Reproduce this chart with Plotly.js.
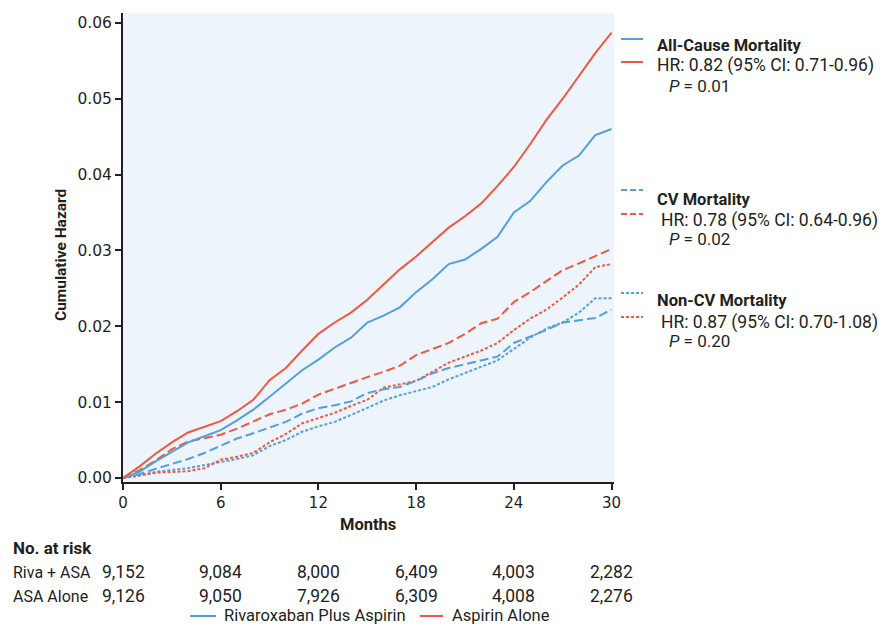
<!DOCTYPE html>
<html>
<head>
<meta charset="utf-8">
<script src="https://cdn.plot.ly/plotly-3.0.1.min.js"></script>
<style>html,body{margin:0;padding:0;background:#fff;}#chart{width:882px;height:626px;}</style>
</head>
<body>
<div id="chart"></div>
<script>
// Months at which curves are read
var months = [0,1,2,3,4,5,6,7,8,9,10,11,12,13,14,15,16,17,18,19,20,21,22,23,24,25,26,27,28,29,30];

// All-cause mortality
var allCauseASA  = [0,0.0015,0.0032,0.0047,0.0060,0.0067,0.0075,0.0088,0.0103,0.0129,0.0145,0.0168,0.0190,0.0205,0.0218,0.0235,0.0255,0.0275,0.0292,0.0311,0.0330,0.0345,0.0362,0.0385,0.0410,0.0440,0.0472,0.0500,0.0530,0.0560,0.0587];
var allCauseRiva = [0,0.0008,0.0022,0.0035,0.0047,0.0055,0.0063,0.0076,0.0090,0.0107,0.0125,0.0142,0.0156,0.0172,0.0185,0.0205,0.0214,0.0225,0.0245,0.0262,0.0282,0.0288,0.0302,0.0318,0.0350,0.0365,0.0390,0.0412,0.0425,0.0452,0.0460];

// CV mortality
var cvASA  = [0,0.0010,0.0023,0.0038,0.0048,0.0053,0.0057,0.0065,0.0074,0.0084,0.0090,0.0098,0.0110,0.0118,0.0125,0.0133,0.0140,0.0148,0.0162,0.0170,0.0178,0.0190,0.0204,0.0210,0.0232,0.0245,0.0259,0.0274,0.0283,0.0292,0.0302];
var cvRiva = [0,0.0005,0.0012,0.0018,0.0025,0.0033,0.0042,0.0052,0.0059,0.0067,0.0074,0.0085,0.0092,0.0096,0.0101,0.0112,0.0117,0.0120,0.0128,0.0138,0.0145,0.0150,0.0155,0.0160,0.0178,0.0186,0.0195,0.0205,0.0208,0.0211,0.0222];

// Non-CV mortality
var nonCvASA  = [0,0.0004,0.0007,0.0008,0.0009,0.0013,0.0024,0.0028,0.0033,0.0047,0.0058,0.0072,0.0079,0.0086,0.0095,0.0103,0.0119,0.0123,0.0128,0.0140,0.0152,0.0160,0.0168,0.0178,0.0195,0.0210,0.0222,0.0238,0.0255,0.0278,0.0282];
var nonCvRiva = [0,0.0003,0.0008,0.0010,0.0013,0.0017,0.0021,0.0025,0.0030,0.0042,0.0050,0.0061,0.0068,0.0074,0.0083,0.0092,0.0102,0.0109,0.0115,0.0120,0.0130,0.0138,0.0146,0.0155,0.0170,0.0185,0.0197,0.0205,0.0218,0.0237,0.0237];

// Number at risk
var riskMonths = [0,6,12,18,24,30];
var riskRiva = ["9,152","9,084","8,000","6,409","4,003","2,282"];
var riskASA  = ["9,126","9,050","7,926","6,309","4,008","2,276"];

var yTicks = [0,0.01,0.02,0.03,0.04,0.05,0.06];
var xTicks = [0,6,12,18,24,30];

var RED = "#F0583F";
var BLUE = "#52A0DA";
var TXT = "#231f20";
var FONT = "Roboto, Arial, sans-serif";
var TICKFONT = "DejaVu Sans, Verdana, sans-serif";
var DASH = "9px,4px";
var DOT = "3px,2px";

function tr(y, color, dash, name) {
  return {x: months, y: y, type: "scatter", mode: "lines", line: {shape: "linear", color: color, width: 2, dash: dash},
          name: name, showlegend: false, hoverinfo: "skip"};
}

var data = [
  tr(nonCvRiva, BLUE, DOT, "Non-CV Riva"),
  tr(nonCvASA, RED, DOT, "Non-CV ASA"),
  tr(cvRiva, BLUE, DASH, "CV Riva"),
  tr(cvASA, RED, DASH, "CV ASA"),
  tr(allCauseRiva, BLUE, "solid", "Rivaroxaban Plus Aspirin"),
  tr(allCauseASA, RED, "solid", "Aspirin Alone")
];

// pixel helpers for paper coords (plot area 123..614 x, 13..482 y)
function px(x){ return (x-123)/491; }
function py(y){ return (482-y)/469; }

var annotations = [];
function ann(text, x, y, size, extra) {
  var a = {text: text, xref: "paper", yref: "paper", x: px(x), y: py(y), xanchor: "left", yanchor: "middle",
           showarrow: false, font: {family: FONT, size: size, color: TXT}};
  if (extra) for (var k in extra) a[k] = extra[k];
  annotations.push(a);
}
ann("<b>All-Cause Mortality</b>", 655, 45, 16.5);
ann("HR: 0.82 (95% CI: 0.71-0.96)", 655, 66, 17.5);
ann("<i>P</i> = 0.01", 667, 86, 17);
ann("<b>CV Mortality</b>", 655, 199, 16.5);
ann("HR: 0.78 (95% CI: 0.64-0.96)", 659, 220, 17.5);
ann("<i>P</i> = 0.02", 667, 239, 17);
ann("<b>Non-CV Mortality</b>", 655, 300, 16.5);
ann("HR: 0.87 (95% CI: 0.70-1.08)", 659, 322, 17.5);
ann("<i>P</i> = 0.20", 667, 341, 17);

// axis titles
ann("<b>Cumulative Hazard</b>", 61, 255, 15.5, {xanchor: "center", textangle: -90});
ann("<b>Months</b>", 368, 524, 16.5, {xanchor: "center"});

ann("<b>No. at risk</b>", 11, 548, 17);
ann("Riva + ASA", 11, 572, 16);
ann("ASA Alone", 11, 596, 16);
for (var i = 0; i < riskMonths.length; i++) {
  annotations.push({text: riskRiva[i], xref: "x", yref: "paper", x: riskMonths[i], y: py(572), xanchor: "center", yanchor: "middle",
    showarrow: false, font: {family: FONT, size: 17.5, color: TXT}});
  annotations.push({text: riskASA[i], xref: "x", yref: "paper", x: riskMonths[i], y: py(596), xanchor: "center", yanchor: "middle",
    showarrow: false, font: {family: FONT, size: 17.5, color: TXT}});
}
// bottom legend texts
ann("Rivaroxaban Plus Aspirin", 222, 615, 16.5);
ann("Aspirin Alone", 450, 615, 16.5);

var shapes = [];
function seg(x0, x1, y, color, dash) {
  shapes.push({type: "line", xref: "paper", yref: "paper", x0: px(x0), x1: px(x1), y0: py(y), y1: py(y),
               line: {color: color, width: 2, dash: dash}});
}
seg(621, 643, 39, BLUE, "solid"); seg(621, 643, 62, RED, "solid");
seg(621, 643, 190, BLUE, "6px,3px"); seg(621, 643, 214, RED, "6px,3px");
seg(621, 643, 293, BLUE, DOT); seg(621, 643, 317, RED, DOT);
seg(190, 216, 616, BLUE, "solid"); seg(420, 443, 616, RED, "solid");

var layout = {
  width: 882, height: 626,
  margin: {l: 123, r: 268, t: 13, b: 144, pad: 0},
  paper_bgcolor: "#ffffff",
  plot_bgcolor: "#EDF4FC",
  font: {family: FONT, size: 15, color: TXT},
  showlegend: false,
  xaxis: {range: [0, 30.15], tickvals: xTicks, ticktext: xTicks.map(String), ticks: "outside", ticklen: 6, tickwidth: 2,
          tickcolor: TXT, showline: true, linecolor: TXT, linewidth: 2, showgrid: false, zeroline: false,
          tickfont: {family: TICKFONT, size: 15, color: TXT}},
  yaxis: {range: [-0.00053, 0.0613], tickvals: yTicks, ticktext: yTicks.map(function(v){return v.toFixed(2);}),
          ticks: "outside", ticklen: 6, tickwidth: 2, tickcolor: TXT, showline: true, linecolor: TXT, linewidth: 2,
          showgrid: false, zeroline: false, tickfont: {family: TICKFONT, size: 15.5, color: TXT}},
  annotations: annotations,
  shapes: shapes
};

Plotly.newPlot("chart", data, layout, {displayModeBar: false, staticPlot: true});
</script>
</body>
</html>
